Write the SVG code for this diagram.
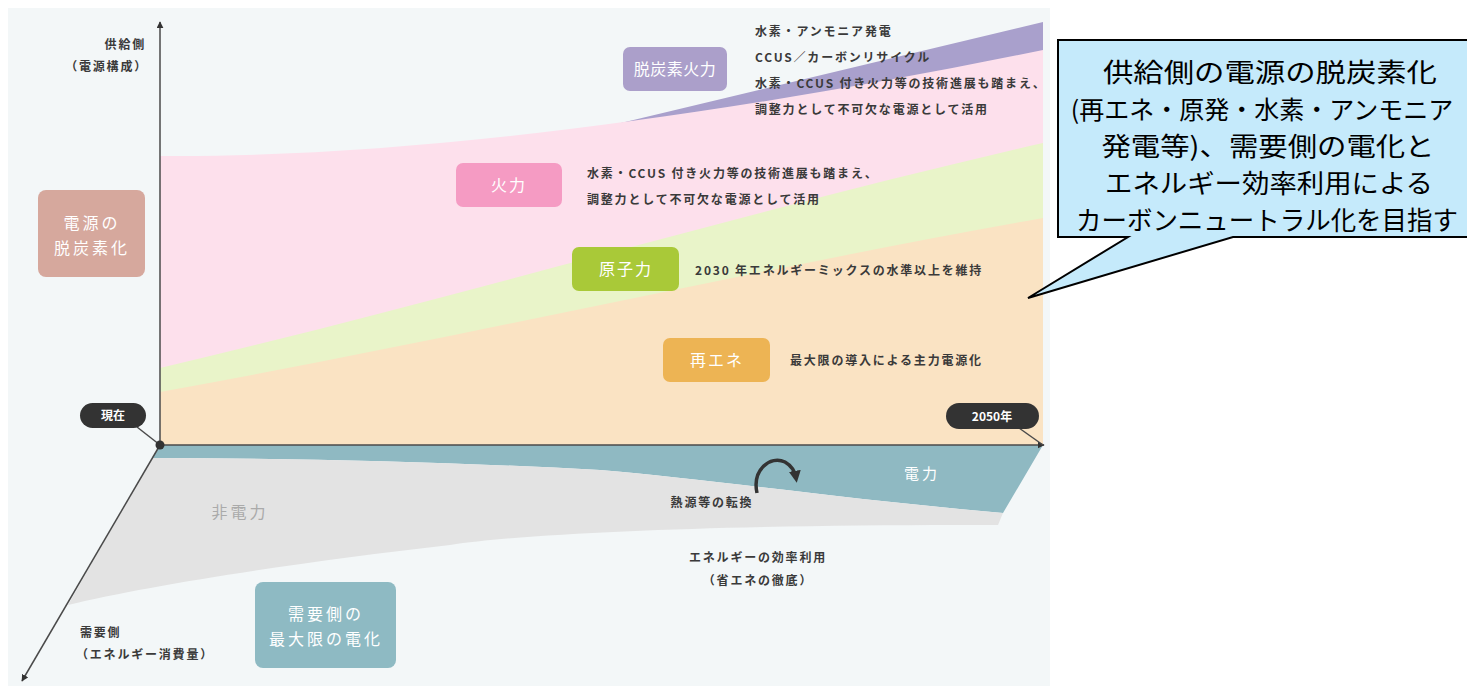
<svg xmlns="http://www.w3.org/2000/svg" width="1467" height="686" viewBox="0 0 1467 686">
<style>
.t{font-family:"Noto Sans CJK JP","Noto Sans",sans-serif;}
.s{font-size:12px;font-weight:bold;fill:#3a3a3a;letter-spacing:1.8px;}
.b{font-size:16px;fill:#fff;letter-spacing:2px;text-anchor:middle;}
.p{font-size:12px;font-weight:bold;fill:#fff;text-anchor:middle;}
.c{font-size:26px;fill:#000;text-anchor:middle;}
.ax{stroke:#4a4a4a;stroke-width:1.5;fill:none;}
</style>
<defs>
<marker id="ah" viewBox="0 0 10 10" refX="9" refY="5" markerWidth="7" markerHeight="7" orient="auto" markerUnits="userSpaceOnUse">
<path d="M0,0 L10,5 L0,10 Z" fill="#333"/>
</marker>
<marker id="ca" viewBox="0 0 10 10" refX="6" refY="5" markerWidth="12" markerHeight="12" orient="auto" markerUnits="userSpaceOnUse">
<path d="M0,0 L10,5 L0,10 Z" fill="#333"/>
</marker>
</defs>
<rect x="0" y="0" width="1467" height="686" fill="#fff"/>
<rect x="8" y="8" width="1042" height="678" fill="#f3f7f8"/>

<g id="areas">
<path d="M600,128 L1043,22 L1043,110 L600,150 Z" fill="#a9a0cc"/>
<path d="M160,156 C400,158 700,120 1043,50 L1043,445 L160,445 Z" fill="#fde0ec"/>
<path d="M160,368 C450,300 750,210 1043,143 L1043,445 L160,445 Z" fill="#e9f4c9"/>
<path d="M160,392 C450,340 750,270 1043,218 L1043,445 L160,445 Z" fill="#fae3c3"/>
<path d="M160,445 L1043,445 L1003,513 C850,500 700,478 600,470 C450,462 300,458 152,458 Z" fill="#8fb9c2"/>
<path d="M152,458 C300,458 450,462 600,470 C700,478 850,500 1003,513 L998,525 C800,524 550,530 450,545 C300,562 150,585 68,605 Z" fill="#e3e3e3"/>
</g>

<g id="connectors">
<line class="ax" x1="160" y1="445" x2="160" y2="22" marker-end="url(#ah)"/>
<line class="ax" x1="160" y1="445" x2="1044" y2="445" marker-end="url(#ah)"/>
<line class="ax" x1="160" y1="445" x2="22" y2="681" marker-end="url(#ah)"/>
<line class="ax" x1="137" y1="427" x2="160" y2="445"/>
<line class="ax" x1="1019" y1="428" x2="1043" y2="445"/>
<circle cx="160" cy="445" r="4.5" fill="#333"/>
<path d="M757,493 C752,470 770,455 785,462 C792,466 795,472 796,478" fill="none" stroke="#333" stroke-width="3.5" marker-end="url(#ca)"/>
</g>

<g id="axis-supply">
<text class="t s" x="146" y="49" text-anchor="end">供給側</text>
<text class="t s" x="148" y="71" text-anchor="end">（電源構成）</text>
</g>

<g id="node-dengen">
<rect x="38" y="190" width="107" height="87" rx="8" fill="#d6a89d"/>
<text class="t b" x="92" y="229" style="letter-spacing:3px">電源の</text>
<text class="t b" x="92" y="254" style="letter-spacing:3px">脱炭素化</text>
</g>

<g id="node-datsutanso">
<rect x="623" y="47" width="104" height="44" rx="7" fill="#ab9fca"/>
<text class="t b" x="675" y="75" style="letter-spacing:0.5px">脱炭素火力</text>
<text class="t s" x="755" y="36">水素・アンモニア発電</text>
<text class="t s" x="755" y="62">CCUS／カーボンリサイクル</text>
<text class="t s" x="755" y="88">水素・CCUS 付き火力等の技術進展も踏まえ、</text>
<text class="t s" x="755" y="114">調整力として不可欠な電源として活用</text>
</g>

<g id="node-karyoku">
<rect x="456" y="163" width="106" height="44" rx="7" fill="#f59bc3"/>
<text class="t b" x="509" y="191">火力</text>
<text class="t s" x="587" y="178">水素・CCUS 付き火力等の技術進展も踏まえ、</text>
<text class="t s" x="587" y="204">調整力として不可欠な電源として活用</text>
</g>

<g id="node-genshiryoku">
<rect x="572" y="247" width="107" height="44" rx="7" fill="#a9c938"/>
<text class="t b" x="626" y="275">原子力</text>
<text class="t s" x="695" y="275">2030 年エネルギーミックスの水準以上を維持</text>
</g>

<g id="node-saiene">
<rect x="663" y="338" width="107" height="44" rx="7" fill="#edb454"/>
<text class="t b" x="717" y="366">再エネ</text>
<text class="t s" x="790" y="365">最大限の導入による主力電源化</text>
</g>

<g id="node-genzai">
<rect x="80" y="403" width="66" height="25" rx="12.5" fill="#333"/>
<text class="t p" x="113" y="420">現在</text>
</g>

<g id="node-2050">
<rect x="946" y="403" width="93" height="26" rx="13" fill="#333"/>
<text class="t p" x="992" y="421">2050年</text>
</g>

<g id="demand">
<text class="t b" x="922" y="479" style="font-size:15px;letter-spacing:3px">電力</text>
<text class="t b" x="240" y="518" style="fill:#aaa;letter-spacing:3px">非電力</text>
<text class="t s" x="712" y="507" text-anchor="middle">熱源等の転換</text>
<text class="t s" x="758" y="562" text-anchor="middle">エネルギーの効率利用</text>
<text class="t s" x="758" y="585" text-anchor="middle">（省エネの徹底）</text>
<text class="t s" x="80" y="637">需要側</text>
<text class="t s" x="76" y="659">（エネルギー消費量）</text>
</g>

<g id="node-juyou">
<rect x="255" y="582" width="141" height="86" rx="8" fill="#8ebac3"/>
<text class="t b" x="326" y="620" style="letter-spacing:3px">需要側の</text>
<text class="t b" x="326" y="645" style="letter-spacing:3px">最大限の電化</text>
</g>

<g id="callout">
<path d="M1058,40 H1480 V237 H1233 L1028,298 L1128,237 H1058 Z" fill="#c5eafb" stroke="#000" stroke-width="2"/>
<text class="t c" x="1270" y="82" textLength="334" lengthAdjust="spacingAndGlyphs">供給側の電源の脱炭素化</text>
<text class="t c" x="1262" y="119" style="font-size:25px">(再エネ・原発・水素・アンモニア</text>
<text class="t c" x="1268" y="156" textLength="333" lengthAdjust="spacingAndGlyphs">発電等)、需要側の電化と</text>
<text class="t c" x="1269" y="193" textLength="328" lengthAdjust="spacingAndGlyphs">エネルギー効率利用による</text>
<text class="t c" x="1267" y="230" textLength="382" lengthAdjust="spacingAndGlyphs">カーボンニュートラル化を目指す</text>
</g>
</svg>
